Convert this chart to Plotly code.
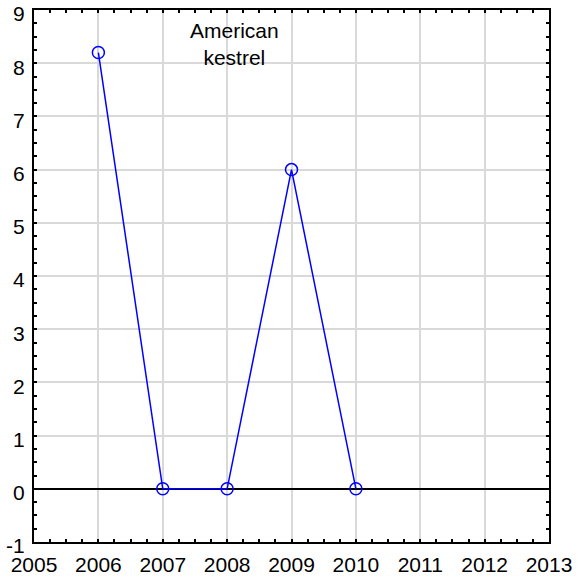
import plotly.graph_objects as go

years = [2006, 2007, 2008, 2009, 2010]
counts = [8.2, 0, 0, 6, 0]
x_ticks = [2005, 2006, 2007, 2008, 2009, 2010, 2011, 2012, 2013]
y_ticks = [-1, 0, 1, 2, 3, 4, 5, 6, 7, 8, 9]
label_lines = ["American", "kestrel"]

fig = go.Figure()
fig.add_trace(go.Scatter(
    x=years, y=counts, mode="lines+markers",
    line=dict(color="#0000ff", width=1.5),
    marker=dict(symbol="circle-open", size=12, color="#0000ff", line=dict(width=1.5)),
    showlegend=False, hoverinfo="skip",
))

axis_common = dict(
    showline=True, linecolor="black", linewidth=2, mirror="ticks",
    ticks="inside", ticklen=3, tickwidth=2, tickcolor="black",
    showgrid=True, gridcolor="#d9d9d9", gridwidth=1.5,
    tickfont=dict(family="Liberation Sans, Arial", size=21, color="black"),
    minor=dict(ticks="inside", ticklen=3, tickwidth=2, tickcolor="black", dtick=0.25, showgrid=False),
    automargin=False,
    ticklabeloverflow="allow",
)

fig.update_xaxes(range=[2005, 2013], tickvals=x_ticks, ticktext=[str(v) for v in x_ticks],
                 zeroline=False, ticklabelstandoff=3, **axis_common)
fig.update_yaxes(range=[-1, 9], tickvals=y_ticks, ticktext=[str(v) for v in y_ticks],
                 zeroline=True, zerolinecolor="black", zerolinewidth=1.5,
                 ticklabelstandoff=3, ticklabelshift=4, **axis_common)

fig.add_annotation(
    x=2008.11, y=8.36, xref="x", yref="y", showarrow=False,
    text="<br>".join(label_lines),
    font=dict(family="Liberation Sans, Arial", size=21, color="black"),
    align="center",
)

fig.update_layout(
    width=578, height=583,
    margin=dict(l=34, r=29, t=10, b=41),
    paper_bgcolor="white", plot_bgcolor="white",
)

fig.write_html("out.html", config={"displayModeBar": False},
               post_script="document.body.style.margin='0';")
